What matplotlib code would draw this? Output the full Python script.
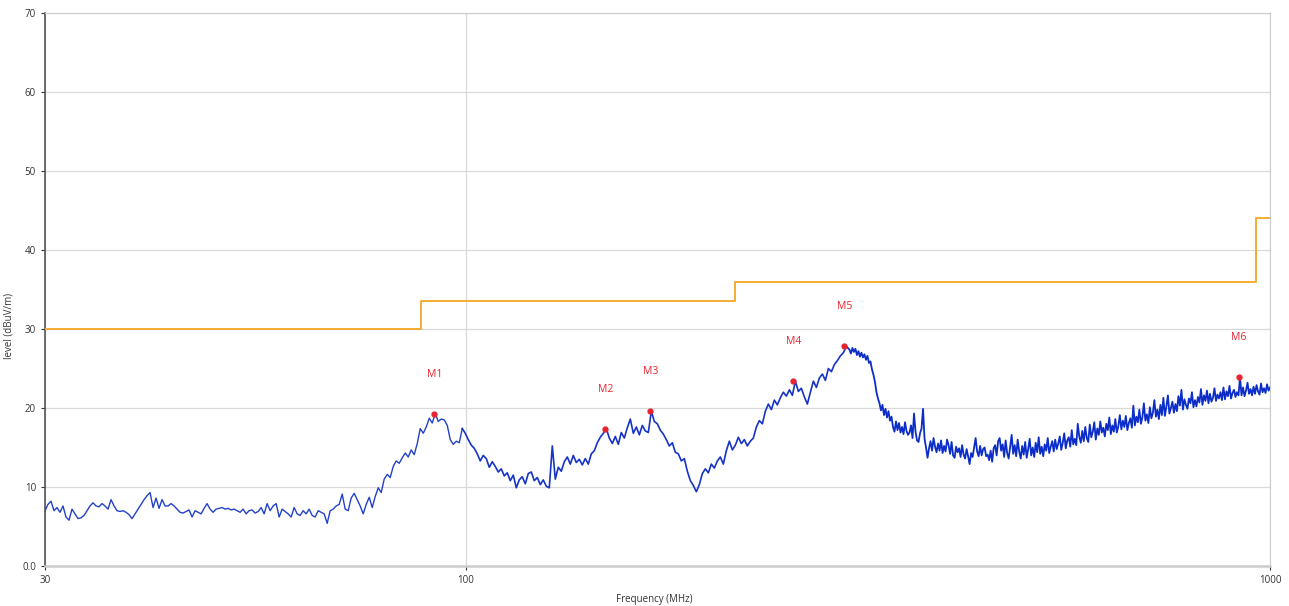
import numpy as np
import matplotlib
matplotlib.use("Agg")
import matplotlib.pyplot as plt

plt.rcParams['font.family'] = ['Open Sans', 'DejaVu Sans']

# measured level, dBuV/m; three sweep segments, log-spaced points in each
seg_low = (30.0, 99.05)     # MHz
level_low = [
    7.0, 7.8, 8.2, 7.0, 7.4, 6.8, 7.6, 6.2, 5.8, 7.2,
    6.6, 6.0, 6.1, 6.4, 7.0, 7.6, 8.0, 7.6, 7.5, 7.9,
    7.6, 7.2, 8.4, 7.6, 7.0, 6.9, 7.0, 6.8, 6.5, 6.0,
    6.6, 7.2, 7.8, 8.4, 8.9, 9.3, 7.4, 8.6, 7.3, 8.4,
    7.6, 7.6, 7.9, 7.6, 7.2, 6.8, 6.7, 6.9, 7.1, 6.2,
    7.0, 6.8, 6.6, 7.3, 7.9, 7.2, 6.8, 7.2, 7.3, 7.4,
    7.2, 7.3, 7.1, 7.2, 7.0, 6.8, 7.2, 6.6, 7.0, 7.1,
    6.7, 6.9, 7.4, 6.6, 7.9, 7.0, 7.6, 7.9, 6.2, 7.2,
    6.9, 6.6, 6.2, 7.4, 6.6, 6.4, 7.0, 6.6, 7.2, 6.4,
    6.2, 7.0, 6.8, 6.6, 5.4, 7.0, 7.2, 7.6, 7.8, 9.1,
    7.2, 7.0, 8.6, 9.2, 8.4, 7.6, 6.6, 7.8, 8.7, 7.4,
    8.8, 9.9, 9.3, 11.0, 11.6, 11.2, 12.6, 13.3, 13.0, 13.7,
    14.3, 13.8, 14.7, 14.1, 15.5, 17.4, 16.8, 17.6, 18.7, 18.1,
    19.3, 18.3, 18.6, 18.5, 17.8, 16.0, 15.4, 15.8, 15.6, 17.4,
]
seg_mid = (99.9, 297.4)
level_mid = [
    16.8, 16.0, 15.3, 14.9, 14.2, 13.3, 14.0, 13.6, 12.5, 13.2,
    12.6, 11.9, 12.3, 11.4, 11.8, 10.8, 11.5, 9.9, 10.9, 11.3,
    10.4, 11.7, 11.9, 10.8, 11.2, 10.3, 10.9, 10.1, 9.9, 15.2,
    11.0, 12.5, 12.0, 13.2, 13.8, 12.9, 14.0, 13.1, 13.5, 12.8,
    13.6, 12.9, 14.2, 14.6, 15.6, 16.3, 16.8, 17.4, 16.2, 15.5,
    16.4, 15.4, 16.9, 16.2, 17.5, 18.6, 16.8, 17.6, 16.6, 17.8,
    17.1, 16.9, 19.6, 18.3, 18.0, 17.2, 16.7, 16.0, 15.2, 15.6,
    14.4, 14.2, 13.3, 13.6, 12.0, 10.8, 10.2, 9.4, 10.3, 11.7,
    12.3, 11.8, 12.9, 12.4, 13.3, 13.8, 12.9, 14.6, 15.8, 14.7,
    15.3, 16.3, 15.5, 16.0, 15.2, 15.8, 16.2, 17.6, 18.4, 18.0,
    19.6, 20.5, 19.8, 21.0, 20.4, 21.3, 22.0, 21.5, 22.3, 21.6,
    23.4, 22.1, 22.5, 21.4, 20.5, 22.0, 23.4, 22.6, 23.8, 24.3,
    23.5, 25.0, 24.6, 25.5, 26.0, 26.6, 27.0, 27.8,
]
seg_high = (300.0, 1000.0)
level_high = [
    27.4, 26.9, 27.6, 27.1, 27.5, 26.7, 27.2, 26.5, 27.0, 26.4,
    26.8, 26.1, 26.6, 25.7, 25.9, 24.9, 24.2, 23.3, 22.0, 21.2,
    20.6, 19.7, 20.4, 19.1, 19.9, 18.8, 19.6, 18.4, 18.9, 17.6,
    17.0, 18.3, 17.2, 18.1, 16.9, 17.6, 16.7, 18.2, 17.1, 16.6,
    16.9, 17.8, 16.2, 19.3, 17.0, 15.9, 15.7, 16.8, 17.4, 19.9,
    16.1, 15.0, 13.7, 14.9, 15.8, 14.6, 16.2, 15.1, 14.4, 15.5,
    14.6, 15.9, 14.3, 15.2, 14.5, 16.0, 15.3, 14.2, 15.7, 14.0,
    13.7, 15.1, 14.4, 14.9, 13.8, 15.3, 14.1, 13.6, 14.8, 13.9,
    12.9, 14.3, 13.8, 15.0, 16.2, 14.5, 13.9, 15.2, 14.0, 14.8,
    15.0, 13.9, 14.1, 13.4, 14.6, 13.2, 14.9, 15.3, 14.0, 15.8,
    16.2, 14.6, 15.4, 13.8, 15.9, 14.3, 13.6, 15.1, 16.6, 14.2,
    15.3, 13.9, 16.0, 14.5, 13.6, 15.2, 14.1, 15.7, 13.7, 14.8,
    16.1, 14.0, 15.0, 13.8, 15.6, 14.4, 16.3, 14.2, 15.1, 13.9,
    15.4, 14.6, 16.2, 14.3, 15.1, 15.8, 14.5, 16.0, 14.8, 15.5,
    16.4, 14.7, 15.6, 16.8, 14.9, 15.9, 16.3, 15.1, 17.2, 15.4,
    16.1, 15.3, 18.0, 16.4, 15.6, 17.1, 15.8, 17.6, 16.2, 15.7,
    17.9, 16.3, 17.0, 18.2, 16.0, 17.4, 16.6, 18.3, 16.9, 17.5,
    16.4, 18.0, 17.2, 18.8, 16.7, 17.8, 17.0, 18.6, 16.9, 17.7,
    19.1, 17.3, 18.4, 17.6, 19.0, 17.2, 18.1, 18.7, 17.5, 20.3,
    17.8, 18.9, 18.2, 19.8, 18.0, 18.8, 20.6, 18.4, 19.2, 18.1,
    20.1, 18.7, 19.4, 21.0, 18.9, 19.8, 18.6, 20.4, 19.1, 21.3,
    19.0, 20.2, 21.6, 19.3, 20.0, 20.8, 19.4, 20.5, 19.6, 21.5,
    20.3, 22.3, 19.8, 21.1, 20.4, 19.9, 21.2, 20.6, 22.0, 20.1,
    21.0, 20.2, 21.4, 20.7, 22.4, 20.4, 21.6, 20.9, 22.2, 20.6,
    21.8, 20.8, 21.3, 22.5, 20.9, 21.7, 21.2, 22.0, 21.0, 22.6,
    21.1, 22.1, 21.5, 22.8, 21.2, 21.9, 22.3, 21.4, 22.0, 21.6,
    23.9, 21.6, 22.6, 21.5, 22.2, 23.2, 21.8, 22.4, 21.6, 22.7,
    21.8, 22.9, 22.1, 21.7, 23.1, 22.0, 22.5, 21.9, 23.0, 22.2,
    22.6,
]

# limit line (step edges in MHz)
limit_freq = [30, 88, 88, 216, 216, 960, 960, 1000]
limit_level = [30, 30, 33.5, 33.5, 36, 36, 44, 44]

# peak markers
marker_names = ['M1', 'M2', 'M3', 'M4', 'M5', 'M6']
marker_freq = [91.4, 149.2, 169.7, 255.5, 295.7, 913.9]
marker_level = [19.3, 17.4, 19.6, 23.4, 27.8, 23.9]

f_low = np.geomspace(*seg_low, len(level_low))
f_mid = np.geomspace(*seg_mid, len(level_mid))
f_high = np.geomspace(*seg_high, len(level_high))

fig = plt.figure(figsize=(12.89, 6.06), dpi=100)
ax = fig.add_axes([0.0349, 0.066, 0.9504, 0.9125])

ax.plot(limit_freq, limit_level, color='#f5a623', lw=1.3, zorder=3)
# join the segments end to end; the finer sweeps get a slightly heavier pen
ax.plot(f_low, level_low, color='#2341c8', lw=1.0, zorder=4)
ax.plot(np.r_[f_low[-1], f_mid], [level_low[-1]] + level_mid,
        color='#1634c6', lw=1.2, zorder=4)
ax.plot(np.r_[f_mid[-1], f_high], [level_mid[-1]] + level_high,
        color='#0c2dc8', lw=1.3, zorder=4)
ax.plot(marker_freq, marker_level, 'o', color='#e8232f', ms=3.5, zorder=5)
for name, f, l in zip(marker_names, marker_freq, marker_level):
    ax.text(f, l + 5, name, color='#e8232f', fontsize=7.5,
            ha='center', va='center', zorder=5)

ax.set_xscale('log')
ax.set_xlim(30, 1000)
ax.set_ylim(0, 70)
ax.set_xticks([30, 100, 1000])
ax.set_xticklabels(['30', '100', '1000'])
ax.xaxis.set_minor_locator(plt.NullLocator())
ax.set_yticks(range(0, 71, 10))
ax.set_yticklabels(['0.0'] + [str(v) for v in range(10, 71, 10)])
ax.tick_params(labelsize=7, colors='#333333', length=3, width=0.8)

ax.grid(True, color='#d9d9d9', lw=0.9)
ax.set_axisbelow(True)
for side in ['top', 'right', 'bottom']:
    ax.spines[side].set_color('#cccccc')
ax.spines['bottom'].set_linewidth(1.8)
ax.spines['left'].set_color('#555555')
ax.spines['left'].set_linewidth(1.2)

ax.set_xlabel('Frequency (MHz)', fontsize=7, color='#333333')
ax.xaxis.set_label_coords(0.497, -0.05)
ax.set_ylabel('level (dBuV/m)', fontsize=7, color='#333333')
ax.yaxis.set_label_coords(-0.025, 0.435)

fig.savefig('out.png', dpi=100)
